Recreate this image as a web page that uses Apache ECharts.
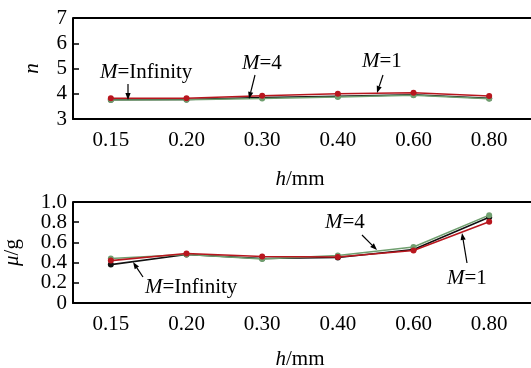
<!DOCTYPE html>
<html><head><meta charset="utf-8">
<script src="https://cdn.jsdelivr.net/npm/echarts@6/dist/echarts.min.js"></script>
<style>html,body{margin:0;padding:0;background:#fff}#c{width:531px;height:368px}</style>
</head><body><div id="c"></div>
<script>
var categories = ['0.15','0.20','0.30','0.40','0.60','0.80'];
var nInfinity = [3.76, 3.77, 3.85, 3.90, 3.96, 3.82];
var nM4 = [3.75, 3.76, 3.81, 3.87, 3.94, 3.80];
var nM1 = [3.82, 3.82, 3.92, 4.00, 4.04, 3.91];
var muInfinity = [0.38, 0.48, 0.44, 0.45, 0.53, 0.85];
var muM4 = [0.44, 0.48, 0.435, 0.47, 0.555, 0.87];
var muM1 = [0.42, 0.49, 0.46, 0.455, 0.52, 0.805];
var muTickLabelsA = ['0', '0.4', '0.8'];
var muTickLabelsB = ['0.2', '0.6', '1.0'];

var FONT = '"Liberation Serif", "DejaVu Serif", serif';
var RED = '#b8161e', GREEN = '#6f9f6f', BLACK = '#111';
var chart = echarts.init(document.getElementById('c'));

function xAx(gi, gap) {
  return {
    type: 'category', gridIndex: gi, data: categories, boundaryGap: true,
    axisLine: {lineStyle: {color: '#000', width: 2}},
    axisTick: {inside: true, alignWithLabel: true, length: 6, lineStyle: {color: '#000', width: 1.5}},
    axisLabel: {color: '#000', fontFamily: FONT, fontSize: 21, margin: 11},
    name: '{i|h}/mm', nameLocation: 'middle', nameGap: gap,
    nameTextStyle: {color: '#000', fontFamily: FONT, fontSize: 21,
      rich: {i: {fontStyle: 'italic', fontFamily: FONT, fontSize: 21, color: '#000'}}}
  };
}
function yAx(gi, min, max, interval, name, gap, fmt) {
  return {
    type: 'value', gridIndex: gi, position: 'left', offset: 0, min: min, max: max, interval: interval,
    axisLine: {show: true, lineStyle: {color: '#000', width: 2}},
    axisTick: {show: true, inside: true, length: 6, lineStyle: {color: '#000', width: 1.5}},
    splitLine: {show: false},
    axisLabel: {color: '#000', fontFamily: FONT, fontSize: 21, margin: 6, formatter: fmt,
      showMinLabel: true, showMaxLabel: true, hideOverlap: false},
    name: name, nameLocation: 'middle', nameGap: gap, nameRotate: 90,
    nameTextStyle: {color: '#000', fontFamily: FONT, fontSize: 21,
      rich: {i: {fontStyle: 'italic', fontFamily: FONT, fontSize: 21, color: '#000'}}}
  };
}
function pick(list) {
  return function (v) {
    for (var i = 0; i < list.length; i++) if (Math.abs(parseFloat(list[i]) - v) < 1e-6) return list[i];
    return '';
  };
}
var yB = yAx(1, 0, 1, 0.2, '', 0, pick(muTickLabelsB));
yB.axisLine = {show: false};
yB.axisTick = {show: false};
yB.name = '';

function ser(name, gi, data, color, z) {
  return {
    name: name, type: 'line', xAxisIndex: gi, yAxisIndex: gi, data: data,
    symbol: 'circle', symbolSize: 6, z: z,
    lineStyle: {color: color, width: 1.6}, itemStyle: {color: color}
  };
}

chart.setOption({
  animation: false,
  grid: [
    {left: 73, top: 18, right: 4, height: 101, containLabel: false, outerBoundsMode: 'none'},
    {left: 73, top: 202, right: 4, height: 101, containLabel: false, outerBoundsMode: 'none'}
  ],
  xAxis: [xAx(0, 50), xAx(1, 46)],
  yAxis: [
    yAx(0, 3, 7, 1, '{i|n}', 30, function (v) { return String(v); }),
    yAx(1, 0, 1, 0.2, '{i|μ}/g', 50, pick(muTickLabelsA)),
    yB
  ],
  series: [
    ser('M=Infinity', 0, nInfinity, BLACK, 2),
    ser('M=4', 0, nM4, GREEN, 3),
    ser('M=1', 0, nM1, RED, 4),
    ser('M=Infinity', 1, muInfinity, BLACK, 2),
    ser('M=4', 1, muM4, GREEN, 3),
    ser('M=1', 1, muM1, RED, 4)
  ]
});

function label(x, y, rest) {
  return {type: 'text', x: x, y: y, z: 10,
    style: {text: '{i|M}' + rest, fill: '#000', font: '21px ' + FONT, textVerticalAlign: 'middle',
      rich: {i: {fontStyle: 'italic', fontFamily: FONT, fontSize: 21, fill: '#000'}}}};
}
function arrow(x1, y1, x2, y2) {
  var dx = x2 - x1, dy = y2 - y1, L = Math.sqrt(dx*dx + dy*dy);
  var ux = dx / L, uy = dy / L, hl = 7, hw = 2.6;
  var bx = x2 - ux*hl, by = y2 - uy*hl;
  return [
    {type: 'line', z: 10, shape: {x1: x1, y1: y1, x2: bx, y2: by}, style: {stroke: '#000', lineWidth: 1.2}},
    {type: 'polygon', z: 10, shape: {points: [[x2, y2], [bx - uy*hw, by + ux*hw], [bx + uy*hw, by - ux*hw]]}, style: {fill: '#000'}}
  ];
}
var g = [
  {type: 'line', z: 5, shape: {x1: 73, y1: 18, x2: 531, y2: 18}, style: {stroke: '#000', lineWidth: 2}},
  {type: 'line', z: 5, shape: {x1: 73, y1: 119, x2: 531, y2: 119}, style: {stroke: '#000', lineWidth: 2}},
  {type: 'line', z: 5, shape: {x1: 73, y1: 202, x2: 531, y2: 202}, style: {stroke: '#000', lineWidth: 2}},
  {type: 'line', z: 5, shape: {x1: 73, y1: 303, x2: 531, y2: 303}, style: {stroke: '#000', lineWidth: 2}},
  label(100, 72, '=Infinity'),
  label(242, 63, '=4'),
  label(362, 61, '=1'),
  label(325, 222, '=4'),
  label(447, 278, '=1'),
  label(145, 287, '=Infinity')
];
g = g.concat(arrow(128, 84, 128, 100), arrow(255, 75, 249, 99), arrow(383, 75, 377, 93),
  arrow(362, 235, 377, 250), arrow(467, 263, 462, 233), arrow(143, 277, 133, 262));
chart.setOption({graphic: g});
</script></body></html>
